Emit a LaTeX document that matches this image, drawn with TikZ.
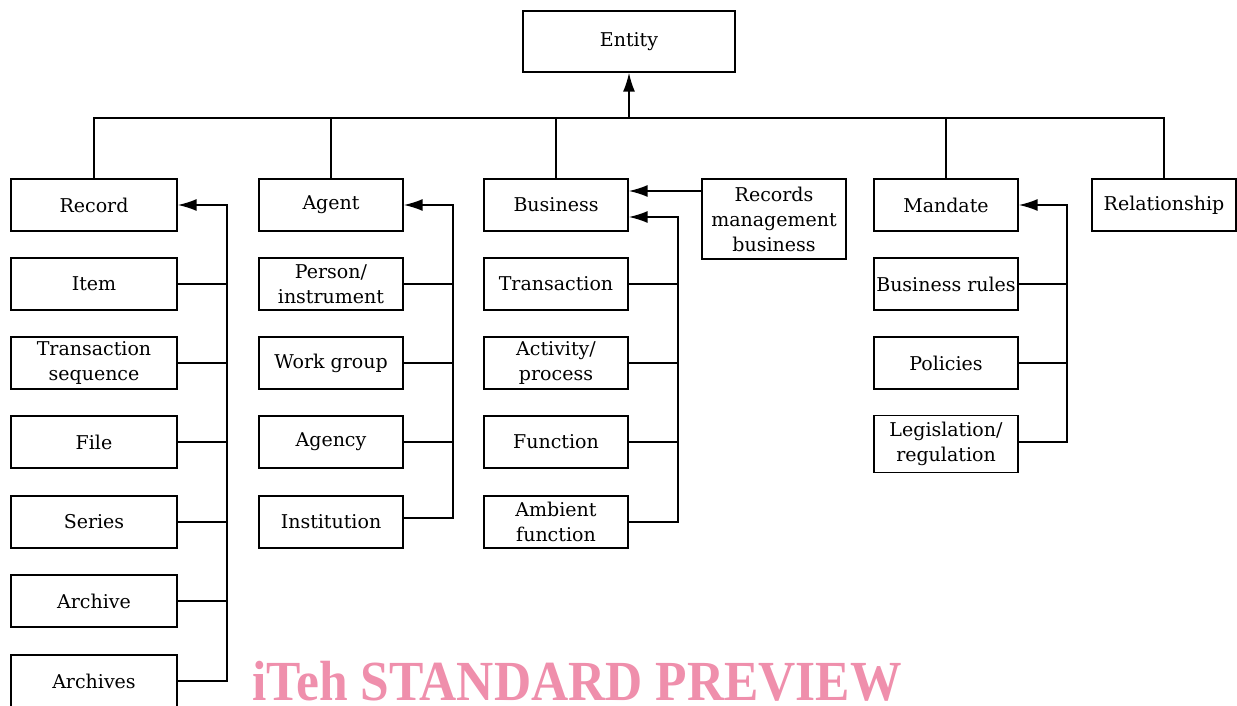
\documentclass[tikz,border=0pt]{standalone}
\usepackage{fontspec}
\setmainfont{DejaVu Serif}
\newfontfamily\wmfont{Liberation Serif}
\usetikzlibrary{arrows.meta}
\definecolor{wmpink}{RGB}{239,143,172}
\tikzset{
  ebox/.style={draw, line width=1.4pt, minimum width=144pt, minimum height=52pt,
    align=center, inner sep=2pt, font=\fontsize{19}{25}\selectfont},
  widebox/.style={ebox, minimum width=166pt},
  conn/.style={line width=1.6pt},
  arr/.style={conn, -{Latex[length=19pt,width=12pt]}}
}
\begin{document}
\begin{tikzpicture}[x=1pt,y=-1pt]
\useasboundingbox (0,0) rectangle (1237,706);
% top of the tree
\node[ebox, minimum width=212pt, minimum height=61pt] (entity) at (629,41.5) {Entity};
\coordinate (bus) at (629,118);
% record column
\node[widebox] (record) at (94,205) {Record};
\node[widebox] (item) at (94,284) {Item};
\node[widebox] (transeq) at (94,363) {Transaction\\sequence};
\node[widebox] (file) at (94,442) {File};
\node[widebox] (series) at (94,522) {Series};
\node[widebox] (archive) at (94,601) {Archive};
\node[widebox] (archives) at (94,681) {Archives};
% agent column
\node[ebox] (agent) at (331,205) {Agent};
\node[ebox] (person) at (331,284) {Person/\\instrument};
\node[ebox] (workgroup) at (331,363) {Work group};
\node[ebox] (agency) at (331,442) {Agency};
\node[ebox] (institution) at (331,522) {Institution};
% business column
\node[ebox] (business) at (556,205) {Business};
\node[ebox, minimum height=80pt] (rmbusiness) at (774,219) {Records\\management\\business};
\node[ebox] (transaction) at (556,284) {Transaction};
\node[ebox] (activity) at (556,363) {Activity/\\process};
\node[ebox] (function) at (556,442) {Function};
\node[ebox] (ambient) at (556,522) {Ambient\\function};
% mandate column
\node[ebox] (mandate) at (946,205) {Mandate};
\node[ebox] (rules) at (946,284) {Business rules};
\node[ebox] (policies) at (946,363) {Policies};
\node[ebox, minimum height=57pt] (legislation) at (946,444) {Legislation/\\regulation};
\node[ebox] (relationship) at (1164,205) {Relationship};

% bus to the entity
\draw[arr] (bus) -- (entity.south);
\draw[conn] (record.north) -- (record.north |- bus) -- (relationship.north |- bus) -- (relationship.north);
\draw[conn] (agent.north) -- (agent.north |- bus);
\draw[conn] (business.north) -- (business.north |- bus);
\draw[conn] (mandate.north) -- (mandate.north |- bus);

% record parts
\draw[arr] (archives.east) -- ++(49,0) |- (record.east);
\draw[conn] (item.east) -- ++(49,0);
\draw[conn] (transeq.east) -- ++(49,0);
\draw[conn] (file.east) -- ++(49,0);
\draw[conn] (series.east) -- ++(49,0);
\draw[conn] (archive.east) -- ++(49,0);

% agent parts
\draw[arr] ([yshift=4pt]institution.east) -- ++(49,0) |- (agent.east);
\draw[conn] (person.east) -- ++(49,0);
\draw[conn] (workgroup.east) -- ++(49,0);
\draw[conn] (agency.east) -- ++(49,0);

% business parts
\draw[arr] (ambient.east) -- ++(49,0) |- ([yshift=-12pt]business.east);
\draw[conn] (transaction.east) -- ++(49,0);
\draw[conn] (activity.east) -- ++(49,0);
\draw[conn] (function.east) -- ++(49,0);
\draw[arr] ([yshift=14pt]business.east -| rmbusiness.west) -- ([yshift=14pt]business.east);

% mandate parts
\draw[arr] ([yshift=2pt]legislation.east) -- ++(48,0) |- (mandate.east);
\draw[conn] (rules.east) -- ++(48,0);
\draw[conn] (policies.east) -- ++(48,0);

% watermark
\node[anchor=base west, inner sep=0pt, text depth=0pt, text=wmpink, yscale=1.1,
  font=\wmfont\bfseries\fontsize{51.5}{52}\selectfont] (preview) at (252,700) {iTeh STANDARD PREVIEW};
\end{tikzpicture}
\end{document}
